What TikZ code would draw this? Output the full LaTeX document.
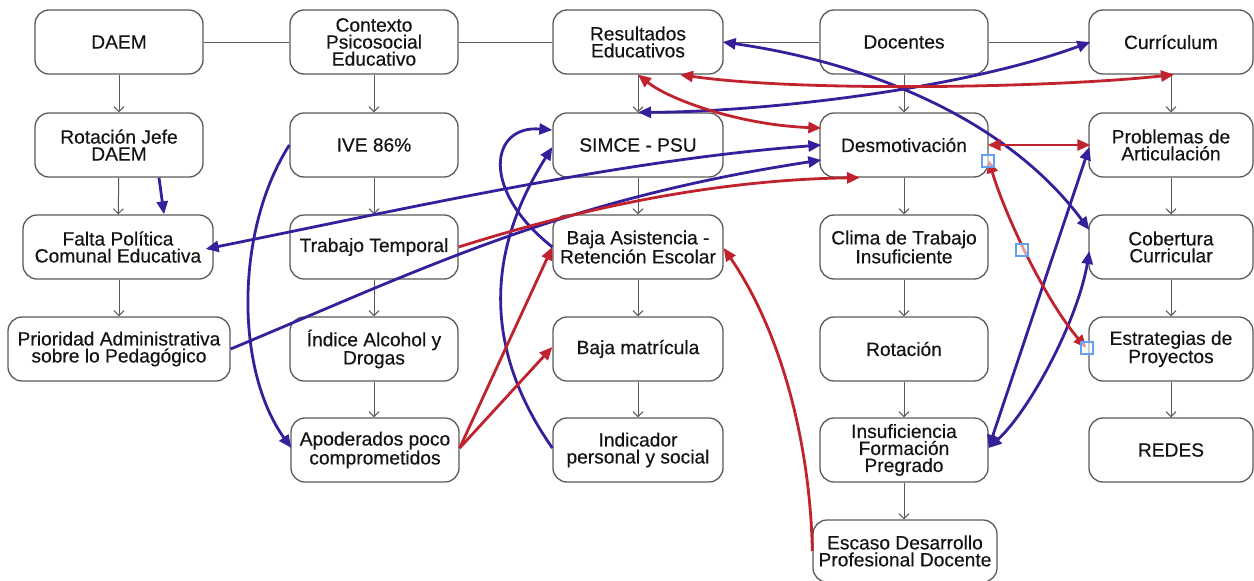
\documentclass[tikz,border=0pt]{standalone}
\usepackage{fontspec}
\setmainfont{Liberation Sans}
\newfontfamily\boxfont{Liberation Sans}[FakeBold=0.35]
\usetikzlibrary{arrows.meta}
\definecolor{cblue}{RGB}{55,30,155}
\definecolor{cred}{RGB}{192,35,45}
\definecolor{cgray}{RGB}{90,90,90}
\definecolor{selblue}{RGB}{100,160,240}
\begin{document}
\begin{tikzpicture}[x=1pt,y=-1pt,
 box/.style={draw=cgray, line width=1.3pt, rounded corners=14pt, fill=white, minimum height=64pt, align=center, font=\boxfont\fontsize{19.2}{17}\selectfont, text=black!92, inner sep=2pt},
 flow/.style={draw=cgray, line width=1pt, -{Straight Barb[length=5pt,width=10pt]}},
 link/.style={draw=cgray, line width=1pt},
 bl/.style={draw=cblue, line width=2.8pt, -{Triangle[length=13pt,width=11pt]}},
 bll/.style={draw=cblue, line width=2.8pt, {Triangle[length=13pt,width=11pt]}-{Triangle[length=13pt,width=11pt]}},
 rd/.style={draw=cred, line width=2.8pt, -{Triangle[length=13pt,width=11pt]}},
 rdd/.style={draw=cred, line width=2.8pt, {Triangle[length=13pt,width=11pt]}-{Triangle[length=13pt,width=11pt]}},
 handle/.style={draw=selblue, line width=1.2pt, fill=white, fill opacity=0.55, minimum size=12pt, inner sep=0pt}
]
\useasboundingbox (0,0) rectangle (1254,581);

% column 1
\node[box, minimum width=168pt] (daem) at (119,42) {DAEM};
\node[box, minimum width=168pt] (rot) at (119,145) {Rotación Jefe\\DAEM};
\node[box, minimum width=190pt] (falta) at (118,247) {Falta Política\\Comunal Educativa};
\node[box, minimum width=222pt] (prio) at (119,349) {Prioridad Administrativa\\sobre lo Pedagógico};
% column 2
\node[box, minimum width=168pt] (ctx) at (374,42) {Contexto\\Psicosocial\\Educativo};
\node[box, minimum width=168pt] (ive) at (374,145) {IVE 86\%};
\node[box, minimum width=168pt] (trab) at (374,247) {Trabajo Temporal};
\node[box, minimum width=168pt] (indice) at (374,349) {Índice Alcohol y\\Drogas};
\node[box, minimum width=168pt] (apod) at (375,450) {Apoderados poco\\comprometidos};
% column 3
\node[box, minimum width=170pt] (res) at (638,42) {Resultados\\Educativos};
\node[box, minimum width=170pt] (simce) at (638,145) {SIMCE - PSU};
\node[box, minimum width=170pt] (basis) at (638,247) {Baja Asistencia -\\Retención Escolar};
\node[box, minimum width=170pt] (bmat) at (638,349) {Baja matrícula};
\node[box, minimum width=170pt] (ind) at (638,450) {Indicador\\personal y social};
% column 4
\node[box, minimum width=168pt] (doc) at (904,42) {Docentes};
\node[box, minimum width=168pt] (desm) at (904,145) {Desmotivación};
\node[box, minimum width=168pt] (clima) at (904,247) {Clima de Trabajo\\Insuficiente};
\node[box, minimum width=168pt] (rotn) at (904,349) {Rotación};
\node[box, minimum width=168pt] (insu) at (904,450) {Insuficiencia\\Formación\\Pregrado};
\node[box, minimum width=184pt, minimum height=62pt] (escaso) at (905,551) {Escaso Desarrollo\\Profesional Docente};
% column 5
\node[box, minimum width=164pt] (curr) at (1171,42) {Currículum};
\node[box, minimum width=164pt] (prob) at (1171,145) {Problemas de\\Articulación};
\node[box, minimum width=164pt] (cob) at (1171,247) {Cobertura\\Curricular};
\node[box, minimum width=164pt] (estr) at (1171,349) {Estrategias de\\Proyectos};
\node[box, minimum width=164pt] (redes) at (1171,450) {REDES};

% top row links
\draw[link] (daem.east) -- (ctx.west);
\draw[link] (ctx.east) -- (res.west);
\draw[link] (res.east) -- (doc.west);
\draw[link] (doc.east) -- (curr.west);

% vertical flows
\draw[flow] (daem) -- (rot);
\draw[flow] (rot) -- (falta);
\draw[flow] (falta.south -| rot.south) -- (prio.north -| rot.south);
\draw[flow] (ctx) -- (ive);
\draw[flow] (ive) -- (trab);
\draw[flow] (trab) -- (indice);
\draw[flow] (indice.south) -- (apod.north -| indice.south);
\draw[flow] (res) -- (simce);
\draw[flow] (simce) -- (basis);
\draw[flow] (basis) -- (bmat);
\draw[flow] (bmat) -- (ind);
\draw[flow] (doc) -- (desm);
\draw[flow] (desm) -- (clima);
\draw[flow] (clima) -- (rotn);
\draw[flow] (rotn) -- (insu);
\draw[flow] (insu.south) -- (escaso.north -| insu.south);
\draw[flow] (curr) -- (prob);
\draw[flow] (prob) -- (cob);
\draw[flow] (cob) -- (estr);
\draw[flow] (estr) -- (redes);

% blue connectors
\draw[bl] ([xshift=40pt]rot.south) -- ([xshift=46pt]falta.north);
\draw[bll] ([xshift=-8pt,yshift=-2pt]falta.east) .. controls (400,210) and (620,160) .. ([xshift=2pt]desm.west);
\draw[bl] (prio.east) .. controls (420,270) and (560,200) .. ([xshift=2pt,yshift=-15pt]desm.west);
\draw[bl] (ive.west) .. controls (235,230) and (235,370) .. ([xshift=1pt,yshift=2pt]apod.west);
\draw[bl] ([yshift=2pt]ind.west) .. controls (470,330) and (500,230) .. ([yshift=-2pt]simce.west);
\draw[bl] (basis.west) .. controls (480,190) and (490,125) .. ([yshift=15pt]simce.west);
\draw[bll] (simce.north) .. controls (760,112) and (960,90) .. ([xshift=2pt]curr.west);
\draw[bll] ([xshift=-1pt]res.east) .. controls (850,60) and (1000,110) .. ([xshift=1pt,yshift=17pt]cob.west);
\draw[bll] ([yshift=2pt]insu.east) -- ([xshift=1pt,yshift=-2pt]prob.west);
\draw[bll] ([yshift=2pt]insu.east) .. controls (1030,410) and (1078,320) .. ([xshift=1pt,yshift=-4pt]cob.west);

% red connectors
\draw[rdd] (res.south) .. controls (670,100) and (740,125) .. ([xshift=2pt,yshift=17pt]desm.west);
\draw[rdd] ([xshift=42pt]res.south) .. controls (800,92) and (1050,88) .. ([xshift=3pt]curr.south);
\draw[rdd] ([xshift=-1pt]desm.east) -- ([xshift=2pt]prob.west);
\draw[rdd] ([yshift=-15pt]desm.east) .. controls (1005,215) and (1045,300) .. ([xshift=-2pt,yshift=1pt]estr.west);
\draw[rd] (trab.east) .. controls (560,215) and (700,180) .. ([xshift=-44pt]desm.south);
\draw[rd] ([yshift=2pt]apod.east) -- (basis.west);
\draw[rd] ([yshift=2pt]apod.east) -- ([yshift=2pt]bmat.west);
\draw[rd] (escaso.west) .. controls (810,440) and (780,330) .. ([yshift=-1pt]basis.east);

% selection handles
\node[handle] (h1) at (988,161) {};
\node[handle] (h2) at (1022,250) {};
\node[handle] (h3) at (1087,348) {};
\end{tikzpicture}
\end{document}
